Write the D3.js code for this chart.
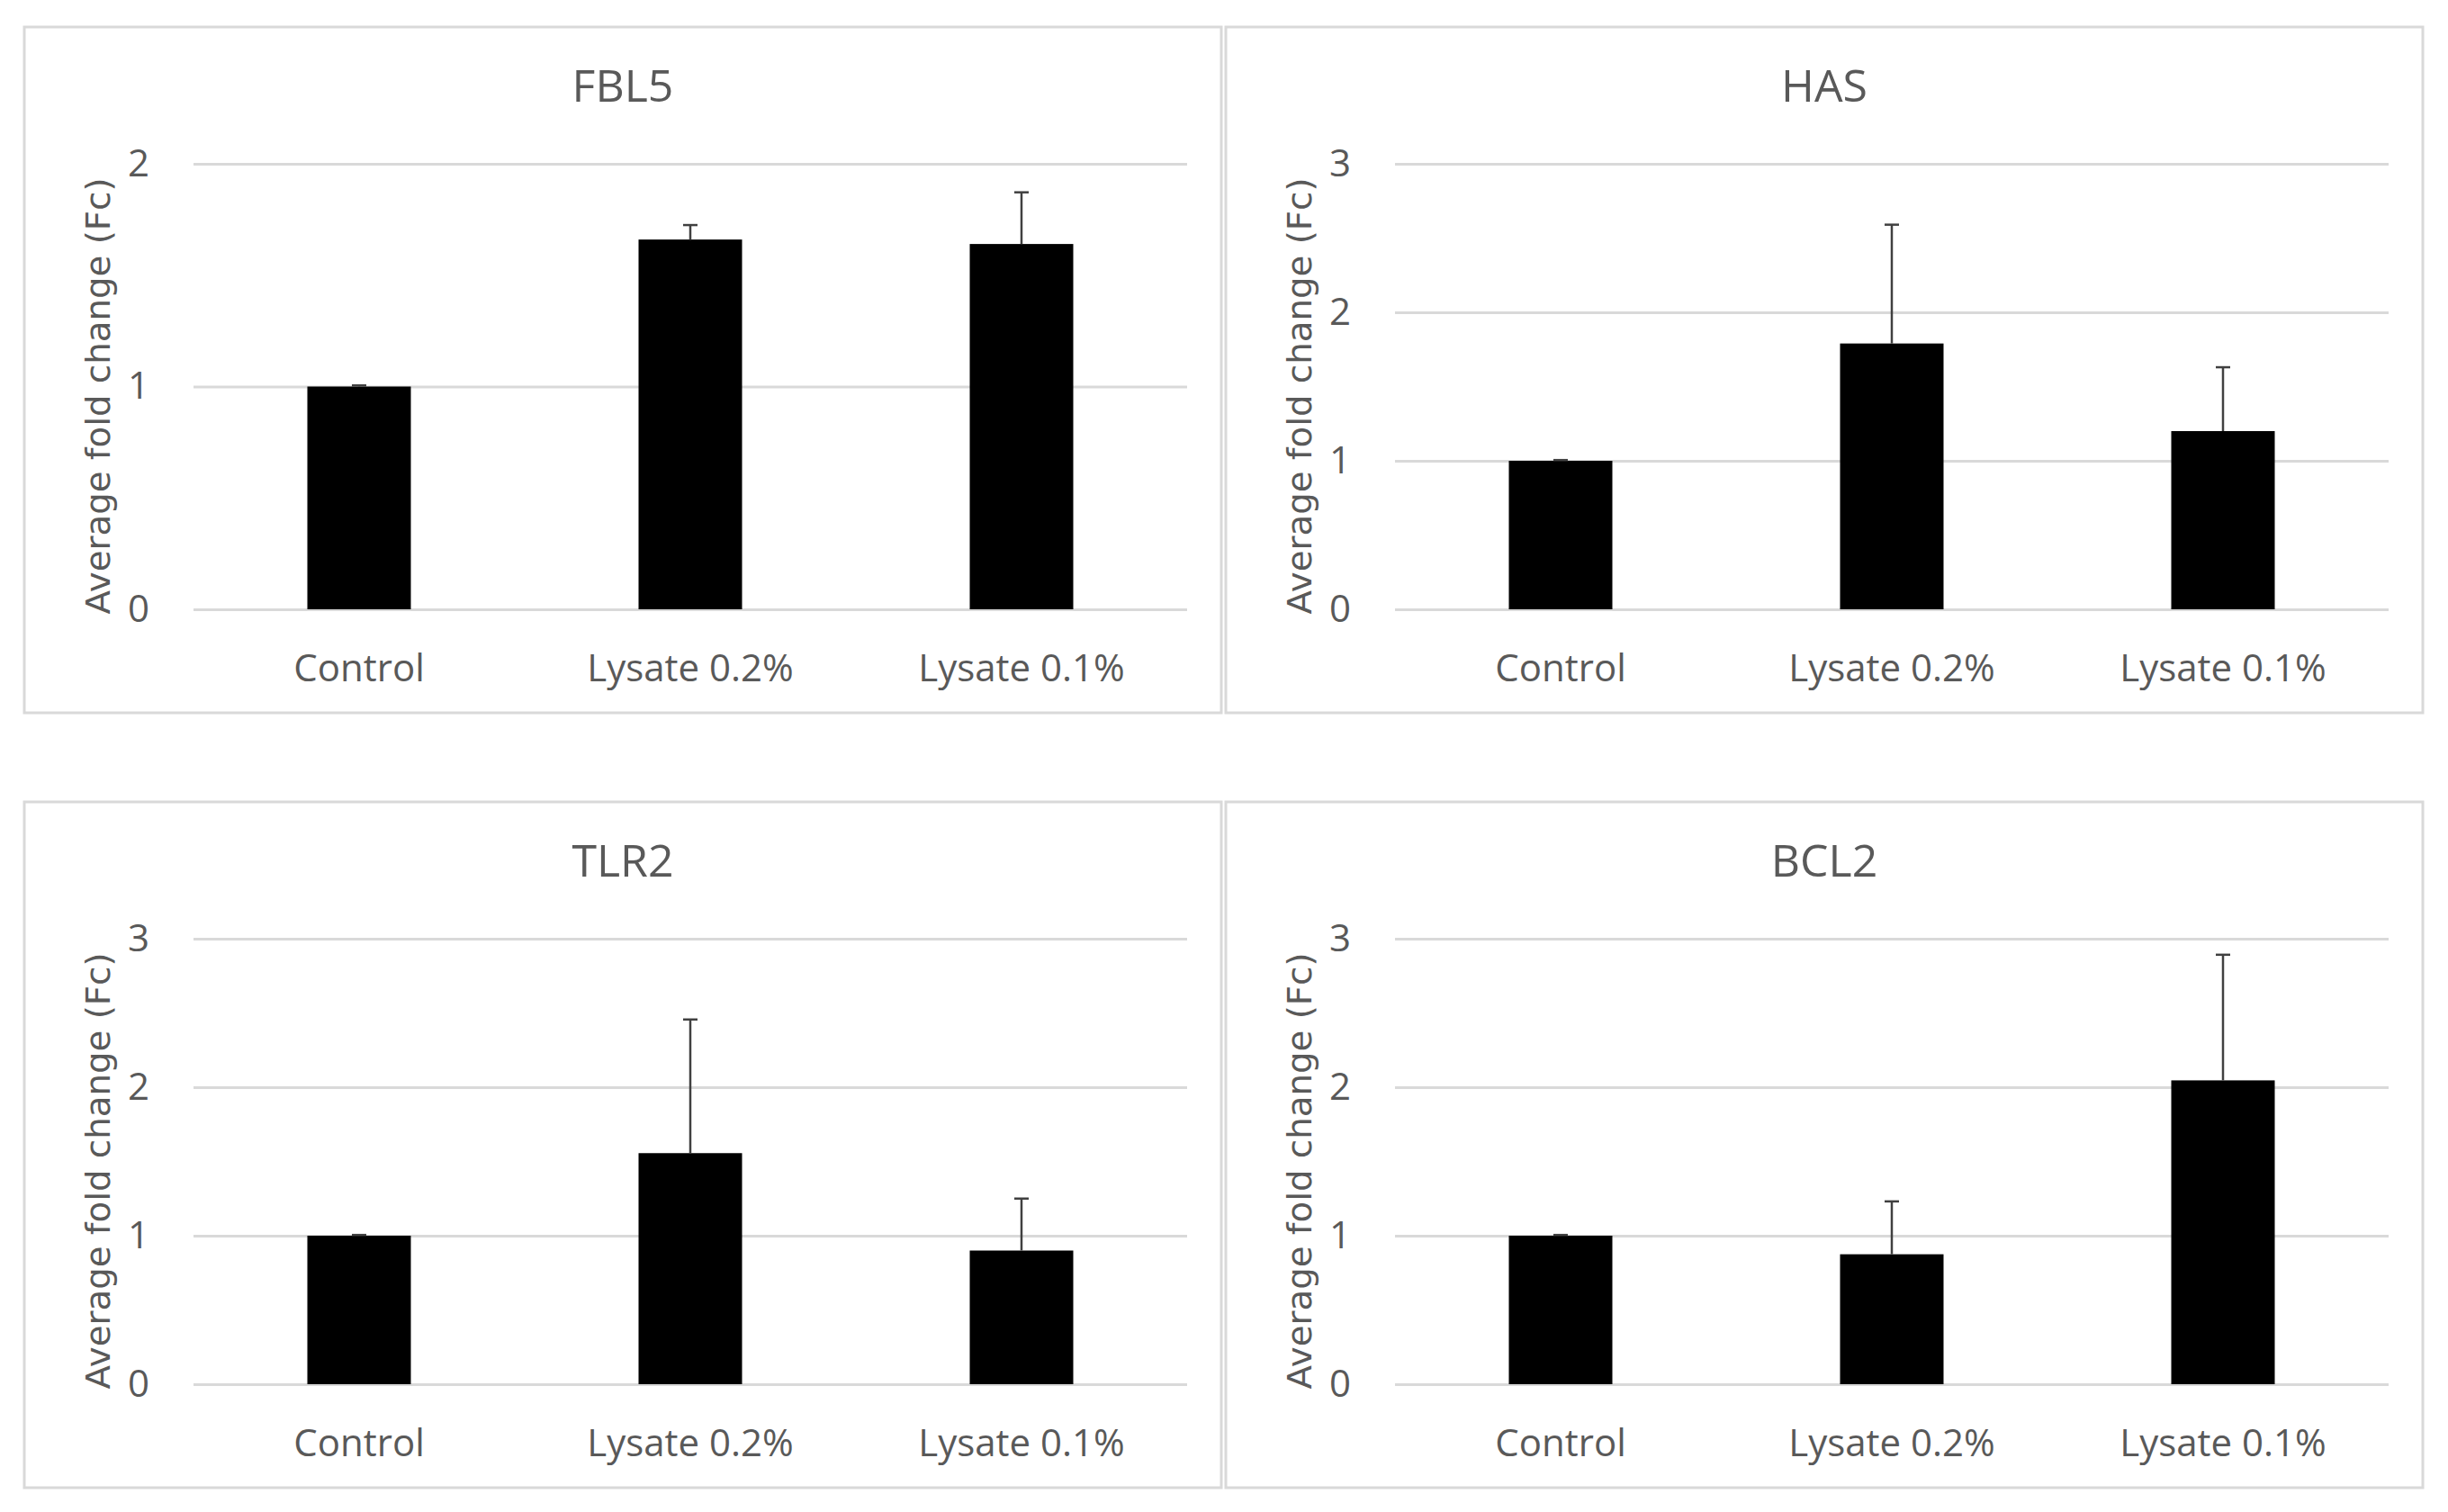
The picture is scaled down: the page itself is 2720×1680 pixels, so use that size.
<!DOCTYPE html>
<meta charset="utf-8">
<style>
    body { margin: 0; background: #fff; }
    .frame { fill: #fff; stroke: #d9d9d9; stroke-width: 3; }
    .grid line { stroke: #d9d9d9; stroke-width: 3; }
    .grid text { fill: #595959; font-family: "Open Sans", sans-serif; font-size: 42px; }
    .xaxis text { fill: #595959; font-family: "Open Sans", sans-serif; font-size: 42px; }
    .title { fill: #595959; font-family: "Open Sans", sans-serif; font-size: 50px; }
    .ylabel { fill: #595959; font-family: "DejaVu Sans", sans-serif; font-size: 38px; }
    .err { stroke: #404040; stroke-width: 2.5; fill: none; }
</style>
<body>
<script src="https://cdn.jsdelivr.net/npm/d3@7"></script>
<script>
    // categories shared by all four charts
    const groups = ["Control", "Lysate 0.2%", "Lysate 0.1%"];
    const genes = ["FBL5", "HAS", "TLR2", "BCL2"];

    // average fold change per gene
    const fbl5 = [1.0, 1.66, 1.64];
    const has = [1.0, 1.79, 1.20];
    const tlr2 = [1.0, 1.556, 0.90];
    const bcl2 = [1.0, 0.875, 2.046];

    // upper error (plus only)
    const fbl5Err = [0.005, 0.065, 0.232];
    const hasErr = [0.005, 0.80, 0.43];
    const tlr2Err = [0.005, 0.90, 0.35];
    const bcl2Err = [0.005, 0.356, 0.846];

    // y axis ticks
    const ticks2 = [0, 1, 2];
    const ticks3 = [0, 1, 2, 3];

    const yLabel = "Average fold change (Fc)";

    const charts = [
        {name: genes[0], values: fbl5, err: fbl5Err, ticks: ticks2},
        {name: genes[1], values: has, err: hasErr, ticks: ticks3},
        {name: genes[2], values: tlr2, err: tlr2Err, ticks: ticks3},
        {name: genes[3], values: bcl2, err: bcl2Err, ticks: ticks3}
    ];

    const W = 2720, H = 1680;
    const panelW = 1330, panelH = 762;
    const origins = [[27, 30], [1362, 30], [27, 891], [1362, 891]];
    const plot = {left: 188, right: 1292, top: 152, bottom: 647};

    const svg = d3.select("body").append("svg")
        .attr("width", W)
        .attr("height", H);

    charts.forEach(function (c, i) {
        const g = svg.append("g")
            .attr("transform", "translate(" + origins[i][0] + "," + origins[i][1] + ")");

        g.append("rect")
            .attr("class", "frame")
            .attr("width", panelW)
            .attr("height", panelH);

        const x = d3.scaleBand()
            .domain(groups)
            .range([plot.left, plot.right])
            .paddingInner(0.6875)
            .paddingOuter(0.34375);

        const y = d3.scaleLinear()
            .domain([0, d3.max(c.ticks)])
            .range([plot.bottom, plot.top]);

        // gridlines + tick labels
        const grid = g.append("g")
            .attr("class", "grid")
            .attr("transform", "translate(" + plot.left + ",0)")
            .call(d3.axisLeft(y)
                .tickValues(c.ticks)
                .tickFormat(d3.format("d"))
                .tickSize(-(plot.right - plot.left))
                .tickPadding(49));
        grid.select(".domain").remove();

        // bars
        g.append("g")
            .selectAll("rect")
            .data(c.values)
            .join("rect")
            .attr("x", (d, j) => x(groups[j]))
            .attr("y", d => y(d))
            .attr("width", x.bandwidth())
            .attr("height", d => y(0) - y(d))
            .attr("fill", "#000");

        // error bars
        const cap = 8;
        const eb = g.append("g").attr("class", "err");
        c.values.forEach(function (v, j) {
            const cx = x(groups[j]) + x.bandwidth() / 2;
            eb.append("line")
                .attr("x1", cx).attr("x2", cx)
                .attr("y1", y(v)).attr("y2", y(v + c.err[j]));
            eb.append("line")
                .attr("x1", cx - cap).attr("x2", cx + cap)
                .attr("y1", y(v + c.err[j])).attr("y2", y(v + c.err[j]));
        });

        // category labels
        const xa = g.append("g")
            .attr("class", "xaxis")
            .attr("transform", "translate(0," + plot.bottom + ")")
            .call(d3.axisBottom(x).tickSize(0).tickPadding(0));
        xa.select(".domain").remove();
        xa.selectAll("text").attr("dy", null).attr("y", 80);

        g.append("text")
            .attr("class", "title")
            .attr("x", panelW / 2)
            .attr("y", 83)
            .attr("text-anchor", "middle")
            .text(c.name);

        g.append("text")
            .attr("class", "ylabel")
            .attr("transform", "translate(95," + 410 + ") rotate(-90)")
            .attr("text-anchor", "middle")
            .attr("textLength", 485)
            .attr("lengthAdjust", "spacingAndGlyphs")
            .text(yLabel);
    });
</script>
</body>
</html>
